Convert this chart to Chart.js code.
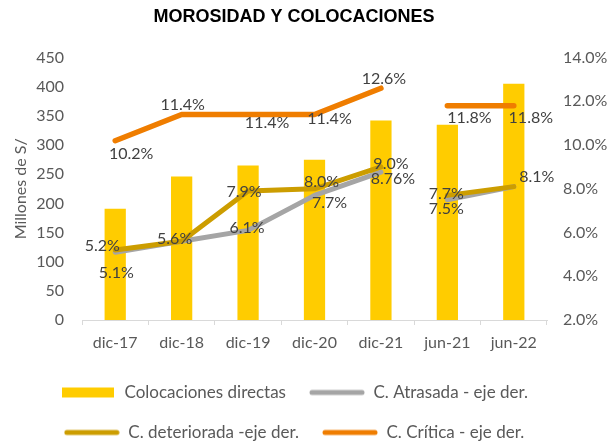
<!DOCTYPE html>
<html><head><meta charset="utf-8">
<script src="https://cdn.jsdelivr.net/npm/chart.js@4/dist/chart.umd.min.js"></script>
<style>html,body{margin:0;padding:0;background:#fff;}</style>
</head><body>
<canvas id="c" width="608" height="443"></canvas>
<script>
const categories = ['dic-17', 'dic-18', 'dic-19', 'dic-20', 'dic-21', 'jun-21', 'jun-22'];
const colocaciones = [191, 246, 265, 275, 342, 335, 405];
const atrasada = [5.1, 5.6, 6.1, 7.7, 8.76, 7.5, 8.1];
const deteriorada = [5.2, 5.6, 7.9, 8.0, 9.0, 7.7, 8.1];
const critica = [10.2, 11.4, 11.4, 11.4, 12.6, 11.8, 11.8];
const leftTicks = [0, 50, 100, 150, 200, 250, 300, 350, 400, 450];
const rightTicks = [2, 4, 6, 8, 10, 12, 14];
const seriesNames = ['Colocaciones directas', 'C. Atrasada - eje der.', 'C. deteriorada -eje der.', 'C. Crítica - eje der.'];

// label placement (style only): [dx, dy] from each point
const critOff = [[16,13],[1,-10],[19,8],[15,4],[3,-9],[22,12],[17,12]];
const detOff = [[-13,-4],[-7,-2],[-4,1],[7,-7],[10,-3],[-1,-2],[23,-10]];
const atrOff = [[1,21],[-7,-2],[-1,-3],[15,7],[12,7],[-1,9],[23,-10]];
const gapIndex = 4; // break lines between dic-21 and jun-21

const C_BAR = '#FFCC00', C_GRAY = '#A5A5A5', C_GOLD = '#CC9D00', C_ORANGE = '#EF7D00';
const FONT = 'Lato';

function marker(color, bar) {
  const c = document.createElement('canvas');
  c.width = 56; c.height = 12;
  const x = c.getContext('2d');
  if (bar) { x.fillStyle = color; x.fillRect(2, 1, 52, 10); }
  else { x.strokeStyle = color; x.lineWidth = 5; x.lineCap = 'round'; x.beginPath(); x.moveTo(3, 6); x.lineTo(53, 6); x.stroke(); }
  return c;
}
const markers = [marker(C_BAR, true), marker(C_GRAY), marker(C_GOLD), marker(C_ORANGE)];

function fmt(v) { return (Math.round(v * 10) === v * 10) ? v.toFixed(1) + '%' : String(v) + '%'; }

function lineDs(label, data, color, width, order, offs) {
  return {
    type: 'line', label, data, yAxisID: 'y1', order,
    borderColor: color, backgroundColor: color, borderWidth: width,
    borderCapStyle: 'round', borderJoinStyle: 'round',
    pointRadius: 0, pointHoverRadius: 0, tension: 0,
    segment: { borderColor: ctx => ctx.p0DataIndex === gapIndex ? 'rgba(0,0,0,0)' : color },
    labelOffsets: offs
  };
}

const labelPlugin = {
  id: 'pctLabels',
  afterDatasetsDraw(chart) {
    const ctx = chart.ctx;
    const seen = new Set();
    ctx.save();
    ctx.font = '16px ' + FONT;
    ctx.fillStyle = '#404040';
    ctx.textAlign = 'center';
    ctx.textBaseline = 'middle';
    chart.data.datasets.forEach((ds, di) => {
      if (ds.type !== 'line') return;
      const meta = chart.getDatasetMeta(di);
      meta.data.forEach((pt, i) => {
        const o = ds.labelOffsets[i];
        const t = fmt(ds.data[i]);
        const x = pt.x + o[0], y = pt.y + o[1];
        const key = t + '@' + Math.round(x / 4) + ',' + Math.round(y / 4);
        if (seen.has(key)) return;
        seen.add(key);
        ctx.fillText(t, x, y);
      });
    });
    ctx.restore();
  }
};

// shift title and legend slightly left, as in the reference
const shiftPlugin = {
  id: 'shiftBlocks',
  afterLayout(chart) {
    [chart.titleBlock, chart.legend].forEach(b => { if (b) { b.left -= 10; b.right -= 10; } });
  }
};

Chart.defaults.font.family = FONT;
Chart.defaults.color = '#595959';

new Chart(document.getElementById('c'), {
  data: {
    labels: categories,
    datasets: [
      { type: 'bar', label: seriesNames[0], data: colocaciones, yAxisID: 'y', order: 4,
        backgroundColor: C_BAR, barPercentage: 0.32, categoryPercentage: 1 },
      lineDs(seriesNames[1], atrasada, C_GRAY, 5, 3, atrOff),
      lineDs(seriesNames[2], deteriorada, C_GOLD, 5, 2, detOff),
      lineDs(seriesNames[3], critica, C_ORANGE, 5.5, 1, critOff)
    ]
  },
  options: {
    responsive: false,
    animation: false,
    devicePixelRatio: 1,
    layout: { padding: { left: 0, right: 0, top: 0, bottom: -8 } },
    plugins: {
      tooltip: { enabled: false },
      title: {
        display: true, text: 'MOROSIDAD Y COLOCACIONES', color: '#000',
        font: { family: 'Liberation Sans', size: 18, weight: 'bold', lineHeight: 1.2 },
        padding: { top: 6, bottom: 30 }
      },
      legend: {
        position: 'bottom',
        labels: {
          font: { size: 17 }, color: '#595959', padding: 23,
          usePointStyle: true, pointStyleWidth: 56,
          generateLabels(chart) {
            const items = Chart.defaults.plugins.legend.labels.generateLabels(chart);
            items.forEach(it => { it.pointStyle = markers[it.datasetIndex]; });
            items.sort((a, b) => a.datasetIndex - b.datasetIndex);
            return items;
          }
        }
      }
    },
    scales: {
      x: {
        offset: true,
        grid: { display: true, drawOnChartArea: false, offset: true, tickLength: 5, color: '#D9D9D9' },
        border: { display: true, color: '#D9D9D9' },
        ticks: { font: { size: 16 }, color: '#595959', padding: 8 },
        afterFit(s) { s.height = 41; }
      },
      y: {
        position: 'left', min: 0, max: 450,
        afterBuildTicks(s) { s.ticks = leftTicks.map(v => ({ value: v })); },
        grid: { display: false, drawTicks: false },
        border: { display: false },
        ticks: { font: { size: 16 }, color: '#595959', padding: 18 },
        title: { display: true, text: 'Millones de S/', font: { size: 16 }, color: '#595959', padding: { top: 11, bottom: 0 } },
        afterFit(s) { s.width = 82; }
      },
      y1: {
        position: 'right', min: 2, max: 14,
        afterBuildTicks(s) { s.ticks = rightTicks.map(v => ({ value: v })); },
        grid: { display: false, drawTicks: false },
        border: { display: false },
        ticks: { font: { size: 16 }, color: '#595959', padding: 16, callback: v => v.toFixed(1) + '%' },
        afterFit(s) { s.width = 61; }
      }
    }
  },
  plugins: [labelPlugin, shiftPlugin]
});
</script>
</body></html>
